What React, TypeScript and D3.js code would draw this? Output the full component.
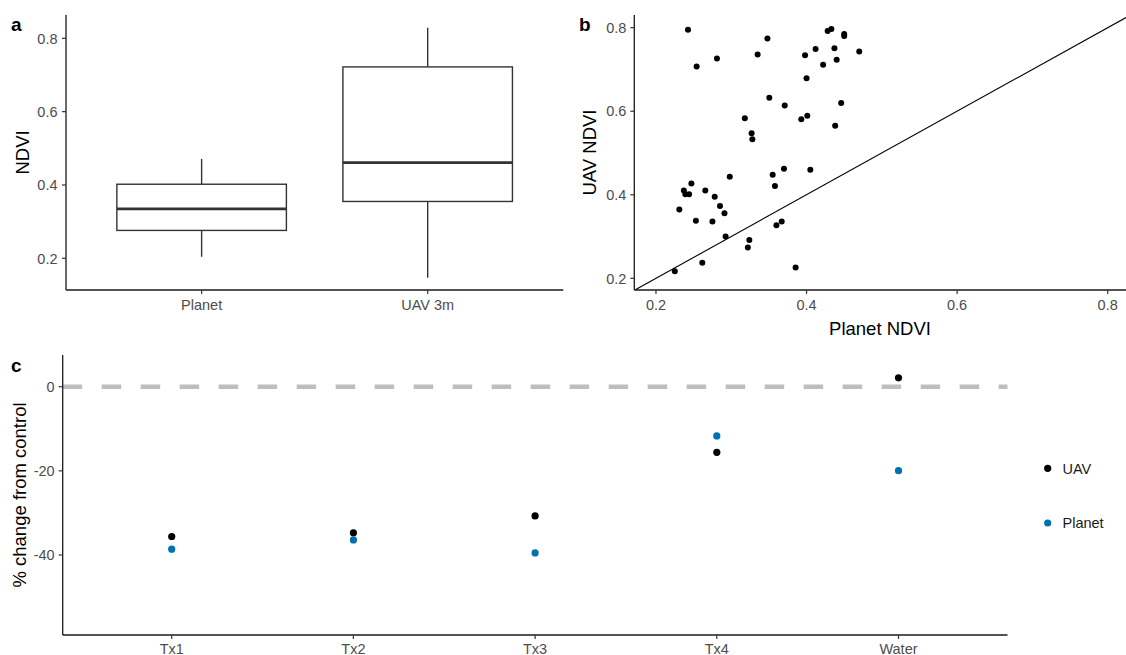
import React from "react";
import * as d3 from "d3";

// ---------- Data ----------
const boxCategories = ["Planet", "UAV 3m"];
const boxLow = [0.204, 0.147];
const boxQ1 = [0.276, 0.355];
const boxMedian = [0.335, 0.461];
const boxQ3 = [0.402, 0.722];
const boxHigh = [0.471, 0.829];
const boxTicks = [0.2, 0.4, 0.6, 0.8];

const planetNDVI = [
  0.2425, 0.254, 0.281, 0.348, 0.335, 0.398, 0.412, 0.428, 0.433, 0.437, 0.45, 0.45, 0.47,
  0.422, 0.44, 0.4, 0.3505, 0.371, 0.446, 0.318, 0.393, 0.401, 0.438, 0.327, 0.328,
  0.298, 0.355, 0.37, 0.405, 0.358, 0.247, 0.237, 0.239, 0.244, 0.2655, 0.278, 0.231,
  0.285, 0.291, 0.253, 0.275, 0.2925, 0.324, 0.322, 0.36, 0.367, 0.2615, 0.225, 0.3855,
];
const uavNDVI = [
  0.795, 0.707, 0.726, 0.774, 0.736, 0.734, 0.749, 0.792, 0.797, 0.751, 0.785, 0.78, 0.743,
  0.711, 0.723, 0.679, 0.632, 0.614, 0.62, 0.583, 0.581, 0.589, 0.565, 0.547, 0.533,
  0.443, 0.448, 0.462, 0.46, 0.421, 0.427, 0.41, 0.401, 0.401, 0.41, 0.395, 0.365,
  0.373, 0.356, 0.338, 0.336, 0.3, 0.292, 0.274, 0.327, 0.336, 0.237, 0.217, 0.226,
];
const scatterTicks = [0.2, 0.4, 0.6, 0.8];

const treatments = ["Tx1", "Tx2", "Tx3", "Tx4", "Water"];
const uavChange = [-35.6, -34.7, -30.7, -15.6, 2.1];
const planetChange = [-38.6, -36.4, -39.5, -11.7, -19.95];
const changeTicks = [0, -20, -40];
const seriesNames = ["UAV", "Planet"];
const seriesColors = ["#000000", "#0072B2"];

// ---------- Styles ----------
const FONT = "'Liberation Sans', Arial, Helvetica, sans-serif";
const TICK_COLOR = "#333333";
const LABEL_COLOR = "#4D4D4D";
const TICK_FS = 14.5;
const TITLE_FS = 18.5;
const TICK_LEN = 4;

export default function App() {
  // Panel a scales
  const xA = d3.scalePoint<string>().domain(boxCategories).range([66, 563.3]).padding(0.6);
  const yA = d3.scaleLinear().domain([0.1135, 0.8636]).range([290, 15]);
  const stepA = xA.step();
  const boxW = stepA * 0.75;

  // Panel b scales
  const xB = d3.scaleLinear().domain([0.1712, 0.8243]).range([634.3, 1126]);
  const yB = d3.scaleLinear().domain([0.172, 0.8304]).range([290, 15]);
  const lineLo = Math.max(xB.domain()[0], yB.domain()[0]);
  const lineHi = Math.min(xB.domain()[1], yB.domain()[1]);
  const diag = d3.line<number>().x((v) => xB(v)).y((v) => yB(v))([lineLo, lineHi]) || "";

  // Panel c scales
  const xC = d3.scalePoint<string>().domain(treatments).range([62.7, 1007.5]).padding(0.6);
  const yC = d3.scaleLinear().domain([-59, 7.53]).range([635, 355]);

  const axisLine = { stroke: "#1a1a1a", strokeWidth: 1.3 };
  const tickStyle = { stroke: TICK_COLOR, strokeWidth: 1.2 };

  return (
    <svg
      width={1126}
      height={655}
      style={{ position: "absolute", left: 0, top: 0, background: "#fff" }}
      fontFamily={FONT}
    >
      <rect x={0} y={0} width={1126} height={655} fill="#ffffff" />

      {/* ---------------- Panel a ---------------- */}
      <g>
        {boxCategories.map((c, i) => {
          const cx = xA(c) as number;
          return (
            <g key={c} stroke="#333333" fill="none">
              <line x1={cx} x2={cx} y1={yA(boxHigh[i])} y2={yA(boxQ3[i])} strokeWidth={1.4} />
              <line x1={cx} x2={cx} y1={yA(boxQ1[i])} y2={yA(boxLow[i])} strokeWidth={1.4} />
              <rect
                x={cx - boxW / 2}
                y={yA(boxQ3[i])}
                width={boxW}
                height={yA(boxQ1[i]) - yA(boxQ3[i])}
                fill="#ffffff"
                strokeWidth={1.4}
              />
              <line
                x1={cx - boxW / 2}
                x2={cx + boxW / 2}
                y1={yA(boxMedian[i])}
                y2={yA(boxMedian[i])}
                strokeWidth={2.8}
              />
            </g>
          );
        })}
        <line x1={66} x2={66} y1={15} y2={290} {...axisLine} />
        <line x1={66} x2={563.3} y1={290} y2={290} {...axisLine} />
        {boxTicks.map((t) => (
          <g key={t}>
            <line x1={66 - TICK_LEN} x2={66} y1={yA(t)} y2={yA(t)} {...tickStyle} />
            <text x={66 - 8.5} y={yA(t)} dy="0.36em" textAnchor="end" fontSize={TICK_FS} fill={LABEL_COLOR}>
              {t.toFixed(1)}
            </text>
          </g>
        ))}
        {boxCategories.map((c) => (
          <g key={c}>
            <line x1={xA(c)} x2={xA(c)} y1={290} y2={290 + TICK_LEN} {...tickStyle} />
            <text x={xA(c)} y={310} textAnchor="middle" fontSize={TICK_FS} fill={LABEL_COLOR}>
              {c}
            </text>
          </g>
        ))}
        <text
          transform={`translate(28.5,152.5) rotate(-90)`}
          textAnchor="middle"
          fontSize={TITLE_FS}
          fill="#000"
        >
          NDVI
        </text>
        <text x={11} y={30.5} fontSize={19} fontWeight="bold" fill="#000">
          a
        </text>
      </g>

      {/* ---------------- Panel b ---------------- */}
      <g>
        <path d={diag} stroke="#000" strokeWidth={1.1} fill="none" />
        {planetNDVI.map((p, i) => (
          <circle key={i} cx={xB(p)} cy={yB(uavNDVI[i])} r={3} fill="#000" />
        ))}
        <line x1={634.3} x2={634.3} y1={15} y2={290} {...axisLine} />
        <line x1={634.3} x2={1126} y1={290} y2={290} {...axisLine} />
        {scatterTicks.map((t) => (
          <g key={"y" + t}>
            <line x1={634.3 - TICK_LEN} x2={634.3} y1={yB(t)} y2={yB(t)} {...tickStyle} />
            <text x={634.3 - 8} y={yB(t)} dy="0.36em" textAnchor="end" fontSize={TICK_FS} fill={LABEL_COLOR}>
              {t.toFixed(1)}
            </text>
          </g>
        ))}
        {scatterTicks.map((t) => (
          <g key={"x" + t}>
            <line x1={xB(t)} x2={xB(t)} y1={290} y2={290 + TICK_LEN} {...tickStyle} />
            <text x={xB(t)} y={310} textAnchor="middle" fontSize={TICK_FS} fill={LABEL_COLOR}>
              {t.toFixed(1)}
            </text>
          </g>
        ))}
        <text x={880} y={334.5} textAnchor="middle" fontSize={TITLE_FS} fill="#000">
          Planet NDVI
        </text>
        <text
          transform={`translate(596,152.5) rotate(-90)`}
          textAnchor="middle"
          fontSize={TITLE_FS}
          fill="#000"
        >
          UAV NDVI
        </text>
        <text x={579} y={30.5} fontSize={19} fontWeight="bold" fill="#000">
          b
        </text>
      </g>

      {/* ---------------- Panel c ---------------- */}
      <g>
        <line
          x1={62.7}
          x2={1007.5}
          y1={yC(0)}
          y2={yC(0)}
          stroke="#BEBEBE"
          strokeWidth={4.5}
          strokeDasharray="19.5 19.5"
        />
        {treatments.map((t, i) => (
          <g key={t}>
            <circle cx={xC(t)} cy={yC(uavChange[i])} r={3.6} fill={seriesColors[0]} />
            <circle cx={xC(t)} cy={yC(planetChange[i])} r={3.6} fill={seriesColors[1]} />
          </g>
        ))}
        <line x1={62.7} x2={62.7} y1={355} y2={635} {...axisLine} />
        <line x1={62.7} x2={1007.5} y1={635} y2={635} {...axisLine} />
        {changeTicks.map((t) => (
          <g key={t}>
            <line x1={62.7 - TICK_LEN} x2={62.7} y1={yC(t)} y2={yC(t)} {...tickStyle} />
            <text x={62.7 - 8} y={yC(t)} dy="0.36em" textAnchor="end" fontSize={TICK_FS} fill={LABEL_COLOR}>
              {t}
            </text>
          </g>
        ))}
        {treatments.map((t) => (
          <g key={t}>
            <line x1={xC(t)} x2={xC(t)} y1={635} y2={635 + TICK_LEN} {...tickStyle} />
            <text x={xC(t)} y={653.5} textAnchor="middle" fontSize={TICK_FS} fill={LABEL_COLOR}>
              {t}
            </text>
          </g>
        ))}
        <text
          transform={`translate(26,495) rotate(-90)`}
          textAnchor="middle"
          fontSize={TITLE_FS}
          fill="#000"
        >
          % change from control
        </text>
        <text x={11} y={372} fontSize={19} fontWeight="bold" fill="#000">
          c
        </text>

        {/* legend */}
        {seriesNames.map((s, i) => {
          const ly = i === 0 ? 468.3 : 523;
          return (
            <g key={s}>
              <circle cx={1047.7} cy={ly} r={3.6} fill={seriesColors[i]} />
              <text x={1062.5} y={ly} dy="0.36em" fontSize={TICK_FS} fill="#1a1a1a">
                {s}
              </text>
            </g>
          );
        })}
      </g>
    </svg>
  );
}
